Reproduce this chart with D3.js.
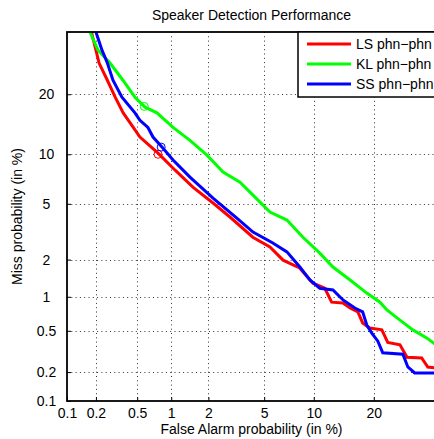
<!DOCTYPE html>
<html>
<head>
<meta charset="utf-8">
<script src="https://cdn.jsdelivr.net/npm/d3@7"></script>
<style>
  body { margin: 0; background: #fff; overflow: hidden; }
  text { font-family: "Liberation Sans", Arial, Helvetica, sans-serif; fill: #000; }
</style>
</head>
<body>
<div id="det-chart"></div>
<script>
// Ejes (probabilidades en %)
var tickValues = [0.1, 0.2, 0.5, 1, 2, 5, 10, 20];
var tickLabels = ['0.1', '0.2', '0.5', '1', '2', '5', '10', '20'];
var axisMin = 0.1;
var axisMax = 35;

// Curvas DET: falsa alarma / perdida (en %)
var lsPfa = [0.18, 0.20, 0.215, 0.26, 0.31, 0.37, 0.46, 0.53, 0.77, 1.08, 1.51, 2.17, 2.9, 4.2, 5.45, 6.6, 8.3, 9.9, 11.5, 12.5, 14.3, 15.5, 16.9, 17.8, 19.2, 21.7, 23.0, 25.8, 27.5, 31.2, 32.8, 35.0];
var lsPmiss = [35, 30.2, 27, 23, 19.4, 16.4, 13.9, 12.4, 10.15, 8.1, 6.4, 5.06, 4.08, 2.94, 2.49, 1.98, 1.72, 1.30, 1.18, 0.90, 0.885, 0.80, 0.74, 0.59, 0.53, 0.51, 0.39, 0.37, 0.28, 0.276, 0.225, 0.22];

var klPfa = [0.174, 0.21, 0.276, 0.368, 0.477, 0.59, 0.753, 1.036, 1.43, 1.95, 2.58, 3.42, 4.21, 5.45, 6.97, 8.68, 10.8, 12.7, 15.5, 18.6, 21.3, 22.8, 25.8, 28.95, 32.5, 35.0];
var klPmiss = [35, 30.2, 27, 23, 19.4, 17.46, 16.4, 13.9, 11.9, 9.88, 7.9, 6.86, 5.69, 4.41, 3.89, 2.94, 2.24, 1.75, 1.38, 1.075, 0.90, 0.77, 0.626, 0.51, 0.43, 0.37];

var ssPfa = [0.20, 0.23, 0.26, 0.295, 0.36, 0.477, 0.53, 0.626, 0.695, 0.833, 1.036, 1.43, 2.17, 3.25, 4.21, 5.69, 6.97, 8.33, 9.51, 10.8, 12.7, 14.3, 16.35, 17.8, 18.6, 19.6, 20.85, 21.9, 26.5, 27.7, 29.4, 35.0];
var ssPmiss = [35, 30.2, 27, 23, 19.4, 16.4, 15.1, 13.9, 12.4, 10.95, 9.28, 7.37, 5.45, 4.01, 3.20, 2.67, 2.29, 1.75, 1.38, 1.18, 1.14, 0.94, 0.80, 0.74, 0.565, 0.477, 0.40, 0.31, 0.30, 0.225, 0.196, 0.196];

// Puntos de coste minimo (circulos)
var minPfa = [0.77, 0.58, 0.82];
var minPmiss = [10.0, 17.6, 10.95];

var seriesNames = ['LS phn\u2212phn', 'KL phn\u2212phn', 'SS phn\u2212phn'];
var seriesColors = ['#ff0000', '#00ff00', '#0000ff'];

// Inversa de la normal (Acklam)
function probit(p) {
    var a = [-3.969683028665376e+01, 2.209460984245205e+02, -2.759285104469687e+02, 1.383577518672690e+02, -3.066479806614716e+01, 2.506628277459239e+00];
    var b = [-5.447609879822406e+01, 1.615858368580409e+02, -1.556989798598866e+02, 6.680131188771972e+01, -1.328068155288572e+01];
    var c = [-7.784894002430293e-03, -3.223964580411365e-01, -2.400758277161838e+00, -2.549732539343734e+00, 4.374664141464968e+00, 2.938163982698783e+00];
    var d = [7.784695709041462e-03, 3.224671290700398e-01, 2.445134137142996e+00, 3.754408661907416e+00];
    var plow = 0.02425, q, r;
    if (p < plow) {
        q = Math.sqrt(-2 * Math.log(p));
        return (((((c[0]*q+c[1])*q+c[2])*q+c[3])*q+c[4])*q+c[5]) / ((((d[0]*q+d[1])*q+d[2])*q+d[3])*q+1);
    } else if (p <= 1 - plow) {
        q = p - 0.5; r = q * q;
        return (((((a[0]*r+a[1])*r+a[2])*r+a[3])*r+a[4])*r+a[5])*q / (((((b[0]*r+b[1])*r+b[2])*r+b[3])*r+b[4])*r+1);
    }
    q = Math.sqrt(-2 * Math.log(1 - p));
    return -(((((c[0]*q+c[1])*q+c[2])*q+c[3])*q+c[4])*q+c[5]) / ((((d[0]*q+d[1])*q+d[2])*q+d[3])*q+1);
}

function showDetChart() {
    var width = 434;
    var height = 439;
    var left = 67, right = 436, top = 32, bottom = 401;

    var xLin = d3.scaleLinear()
        .domain([probit(axisMin / 100), probit(axisMax / 100)])
        .range([left, right]);
    var yLin = d3.scaleLinear()
        .domain([probit(axisMin / 100), probit(axisMax / 100)])
        .range([bottom, top]);

    // escalas en % sobre papel normal
    var xScale = function(v) { return xLin(probit(v / 100)); };
    var yScale = function(v) { return yLin(probit(v / 100)); };
    xScale.copy = function() { return xScale; };
    xScale.range = function() { return xLin.range(); };
    yScale.copy = function() { return yScale; };
    yScale.range = function() { return yLin.range(); };

    var svg = d3.select('#det-chart').append('svg')
        .attr('width', width)
        .attr('height', height);

    svg.append('rect').attr('width', width).attr('height', height).attr('fill', '#fff');

    svg.append('defs').append('clipPath').attr('id', 'plot-clip')
        .append('rect')
        .attr('x', left).attr('y', top)
        .attr('width', right - left).attr('height', bottom - top);

    // Rejilla punteada
    var grid = svg.append('g').attr('stroke', '#333').attr('stroke-width', 1).attr('stroke-dasharray', '1,3.3');
    grid.selectAll('.gx')
        .data(tickValues.slice(1))
        .enter().append('line')
        .attr('x1', function(d) { return Math.round(xScale(d)) + 0.5; })
        .attr('x2', function(d) { return Math.round(xScale(d)) + 0.5; })
        .attr('y1', top)
        .attr('y2', bottom);
    grid.selectAll('.gy')
        .data(tickValues.slice(1))
        .enter().append('line')
        .attr('y1', function(d) { return Math.round(yScale(d)) + 0.5; })
        .attr('y2', function(d) { return Math.round(yScale(d)) + 0.5; })
        .attr('x1', left)
        .attr('x2', right);

    // Curvas
    var line = d3.line()
        .x(function(d) { return xScale(d[0]); })
        .y(function(d) { return yScale(d[1]); });

    var curves = [d3.zip(lsPfa, lsPmiss), d3.zip(klPfa, klPmiss), d3.zip(ssPfa, ssPmiss)];
    var plot = svg.append('g').attr('clip-path', 'url(#plot-clip)');

    plot.selectAll('path.det')
        .data(curves)
        .enter().append('path')
        .attr('class', 'det')
        .attr('d', line)
        .attr('fill', 'none')
        .attr('stroke', function(d, i) { return seriesColors[i]; })
        .attr('stroke-width', 3)
        .attr('stroke-linejoin', 'miter');

    plot.selectAll('circle')
        .data(d3.zip(minPfa, minPmiss))
        .enter().append('circle')
        .attr('cx', function(d) { return xScale(d[0]); })
        .attr('cy', function(d) { return yScale(d[1]); })
        .attr('r', 4)
        .attr('fill', 'none')
        .attr('stroke', function(d, i) { return seriesColors[i]; })
        .attr('stroke-width', 1);

    // Ejes
    var xAxis = d3.axisBottom(xScale)
        .tickValues(tickValues)
        .tickFormat(function(d, i) { return tickLabels[i]; })
        .tickSize(-4)
        .tickSizeOuter(0)
        .tickPadding(7);
    var yAxis = d3.axisLeft(yScale)
        .tickValues(tickValues)
        .tickFormat(function(d, i) { return tickLabels[i]; })
        .tickSize(-4)
        .tickSizeOuter(0)
        .tickPadding(20.5);

    var gx = svg.append('g').attr('transform', 'translate(0,' + bottom + ')').call(xAxis);
    var gy = svg.append('g').attr('transform', 'translate(' + left + ',0)').call(yAxis);
    [gx, gy].forEach(function(g) {
        g.select('.domain').remove();
        g.selectAll('line').attr('stroke', '#000');
        g.selectAll('text')
            .style('font-size', '14px')
            .attr('fill', '#000')
            .style('font-family', '"Liberation Sans", Arial, sans-serif');
    });
    gy.selectAll('text').attr('text-anchor', 'middle');

    // Marco
    svg.append('rect')
        .attr('x', left).attr('y', top)
        .attr('width', right - left).attr('height', bottom - top)
        .attr('fill', 'none')
        .attr('stroke', '#000')
        .attr('stroke-width', 1.8);

    // Leyenda
    var legend = svg.append('g').attr('transform', 'translate(298,32)');
    legend.append('rect')
        .attr('x', 0).attr('y', 0)
        .attr('width', 180).attr('height', 65)
        .attr('fill', '#fff')
        .attr('stroke', '#000')
        .attr('stroke-width', 1.5);
    var items = legend.selectAll('g.item')
        .data(seriesNames)
        .enter().append('g')
        .attr('transform', function(d, i) { return 'translate(0,' + (12 + i * 20) + ')'; });
    items.append('line')
        .attr('x1', 9).attr('x2', 53)
        .attr('stroke', function(d, i) { return seriesColors[i]; })
        .attr('stroke-width', 3);
    items.append('text')
        .attr('x', 58)
        .attr('dy', '0.35em')
        .style('font-size', '14px')
        .text(function(d) { return d; });

    // Titulos
    svg.append('text')
        .attr('x', (left + right) / 2)
        .attr('y', 20)
        .attr('text-anchor', 'middle')
        .style('font-size', '14px')
        .text('Speaker Detection Performance');

    svg.append('text')
        .attr('x', (left + right) / 2)
        .attr('y', 434)
        .attr('text-anchor', 'middle')
        .style('font-size', '14px')
        .text('False Alarm probability (in %)');

    svg.append('text')
        .attr('transform', 'translate(22,' + (top + bottom) / 2 + ') rotate(-90)')
        .attr('text-anchor', 'middle')
        .style('font-size', '14px')
        .text('Miss probability (in %)');
}

showDetChart();
</script>
</body>
</html>
